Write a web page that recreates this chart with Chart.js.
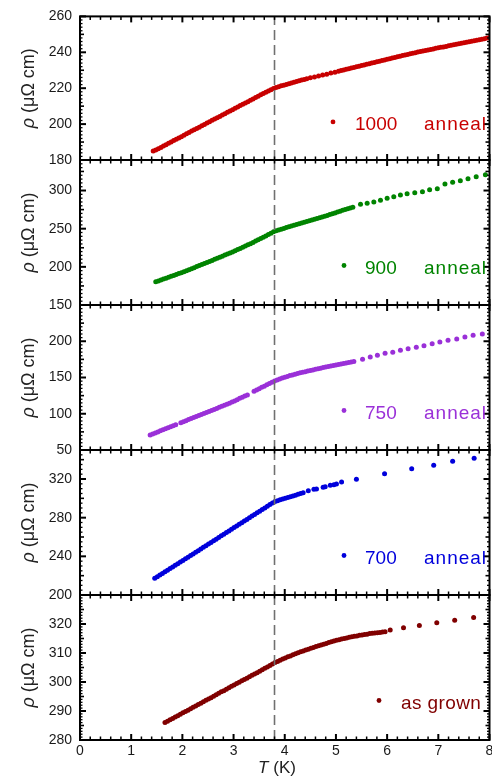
<!DOCTYPE html>
<html><head><meta charset="utf-8">
<script src="https://cdn.jsdelivr.net/npm/chart.js@4.4.0/dist/chart.umd.min.js"></script>
<style>
html,body{margin:0;padding:0;background:#fff;}
#wrap{position:relative;width:492px;height:777px;background:#fff;}
canvas{position:absolute;left:0;top:0;}
</style></head><body><div id="wrap">
<canvas id="c0" width="492" height="777"></canvas>
<canvas id="c1" width="492" height="777"></canvas>
<canvas id="c2" width="492" height="777"></canvas>
<canvas id="c3" width="492" height="777"></canvas>
<canvas id="c4" width="492" height="777"></canvas>
</div>
<script>
// ---- data ----
const seriesNames = ['1000', '900', '750', '700', 'as grown'];
const seriesSuffix = ['anneal', 'anneal', 'anneal', 'anneal', ''];
const xTickLabels = ['0','1','2','3','4','5','6','7','8'];
const yMin = [180, 150, 50, 200, 280];
const yMax = [260, 340, 250, 350, 330];
const yMajor = [20, 50, 50, 40, 10];
const transitionT = 3.8;

const rho1000 = [[1.43,185.0],[1.48,185.6],[1.53,186.3],[1.58,187.0],[1.63,187.8],[1.68,188.5],[1.73,189.3],[1.78,190.0],[1.83,190.8],[1.88,191.5],[1.93,192.3],[1.98,193.0],[2.03,193.8],[2.08,194.6],[2.13,195.3],[2.18,196.1],[2.23,196.8],[2.28,197.6],[2.33,198.3],[2.38,199.1],[2.43,199.8],[2.48,200.6],[2.53,201.3],[2.58,202.1],[2.63,202.8],[2.68,203.6],[2.73,204.3],[2.78,205.1],[2.83,205.8],[2.88,206.6],[2.93,207.3],[2.98,208.0],[3.03,208.8],[3.08,209.5],[3.13,210.3],[3.18,211.0],[3.23,211.8],[3.28,212.5],[3.33,213.3],[3.38,214.0],[3.43,214.8],[3.48,215.5],[3.53,216.3],[3.58,217.0],[3.63,217.8],[3.68,218.5],[3.73,219.2],[3.78,219.9],[3.83,220.4],[3.88,220.8],[3.93,221.3],[3.98,221.7],[4.03,222.1],[4.08,222.5],[4.13,222.9],[4.18,223.3],[4.23,223.7],[4.28,224.1],[4.33,224.5],[4.38,224.9],[4.43,225.2],[4.50,225.8],[4.58,226.3],[4.66,226.8],[4.74,227.3],[4.82,227.8],[4.90,228.4],[4.98,228.9],[5.05,229.5],[5.10,229.8],[5.15,230.1],[5.20,230.5],[5.25,230.8],[5.30,231.2],[5.35,231.5],[5.40,231.9],[5.45,232.2],[5.50,232.6],[5.55,232.9],[5.60,233.3],[5.65,233.6],[5.70,234.0],[5.75,234.3],[5.80,234.7],[5.85,235.0],[5.90,235.4],[5.95,235.7],[6.00,236.1],[6.05,236.4],[6.10,236.8],[6.15,237.1],[6.20,237.5],[6.25,237.8],[6.30,238.2],[6.35,238.5],[6.40,238.8],[6.45,239.2],[6.50,239.5],[6.55,239.8],[6.60,240.1],[6.65,240.4],[6.70,240.7],[6.75,241.0],[6.80,241.3],[6.85,241.6],[6.90,241.9],[6.95,242.2],[7.00,242.5],[7.05,242.8],[7.10,243.0],[7.15,243.3],[7.20,243.6],[7.25,243.9],[7.30,244.2],[7.35,244.5],[7.40,244.8],[7.45,245.0],[7.50,245.3],[7.55,245.6],[7.60,245.9],[7.65,246.2],[7.70,246.4],[7.75,246.7],[7.80,247.0],[7.85,247.3],[7.90,247.6],[7.95,247.9],[8.00,248.2]];

const rho900 = [[1.48,180.5],[1.53,181.6],[1.58,182.8],[1.63,184.0],[1.68,185.2],[1.73,186.4],[1.78,187.6],[1.83,188.8],[1.88,190.0],[1.93,191.2],[1.98,192.4],[2.03,193.7],[2.08,195.0],[2.13,196.3],[2.18,197.6],[2.23,198.9],[2.28,200.3],[2.33,201.6],[2.38,203.0],[2.43,204.3],[2.48,205.7],[2.53,207.0],[2.58,208.4],[2.63,209.8],[2.68,211.2],[2.73,212.6],[2.78,214.0],[2.83,215.4],[2.88,216.8],[2.93,218.2],[2.98,219.6],[3.03,221.1],[3.08,222.6],[3.13,224.1],[3.18,225.6],[3.23,227.2],[3.28,228.8],[3.33,230.4],[3.38,232.0],[3.43,233.7],[3.48,235.4],[3.53,237.1],[3.58,238.8],[3.63,240.5],[3.68,242.3],[3.73,244.1],[3.78,245.9],[3.83,247.3],[3.88,248.4],[3.93,249.4],[3.98,250.4],[4.03,251.4],[4.08,252.4],[4.13,253.4],[4.18,254.4],[4.23,255.4],[4.28,256.4],[4.33,257.4],[4.38,258.4],[4.43,259.4],[4.48,260.4],[4.53,261.4],[4.58,262.4],[4.63,263.4],[4.68,264.4],[4.73,265.4],[4.78,266.4],[4.83,267.4],[4.88,268.5],[4.93,269.6],[4.98,270.7],[5.03,271.8],[5.08,272.9],[5.13,274.0],[5.18,275.0],[5.23,276.0],[5.28,277.0],[5.33,278.0],[5.48,282.0],[5.61,283.3],[5.74,285.0],[5.87,287.2],[6.00,289.8],[6.13,291.9],[6.26,294.2],[6.39,295.9],[6.54,297.2],[6.69,298.5],[6.83,301.1],[6.98,302.4],[7.13,308.6],[7.28,310.8],[7.43,312.9],[7.58,315.5],[7.74,318.2],[7.92,320.8]];

const rho750 = [[1.37,70.7],[1.42,72.1],[1.47,73.5],[1.52,75.0],[1.57,76.4],[1.62,77.8],[1.67,79.2],[1.72,80.6],[1.77,82.0],[1.82,83.4],[1.87,84.8],[1.97,87.7],[2.02,89.1],[2.07,90.5],[2.12,91.9],[2.17,93.3],[2.22,94.7],[2.27,96.1],[2.32,97.5],[2.37,98.9],[2.42,100.3],[2.47,101.7],[2.52,103.1],[2.57,104.5],[2.62,106.0],[2.67,107.4],[2.72,108.8],[2.77,110.3],[2.82,111.7],[2.87,113.2],[2.92,114.6],[2.97,116.1],[3.02,117.6],[3.07,119.4],[3.12,121.3],[3.17,122.9],[3.22,124.4],[3.27,126.0],[3.40,131.0],[3.45,132.8],[3.50,134.6],[3.55,136.4],[3.60,138.1],[3.65,139.9],[3.70,141.7],[3.75,143.5],[3.80,145.2],[3.85,146.7],[3.90,148.0],[3.95,149.2],[4.00,150.4],[4.05,151.5],[4.10,152.6],[4.15,153.6],[4.20,154.6],[4.25,155.5],[4.30,156.4],[4.35,157.3],[4.40,158.1],[4.45,158.9],[4.50,159.7],[4.55,160.5],[4.60,161.3],[4.65,162.1],[4.70,162.9],[4.75,163.7],[4.80,164.5],[4.85,165.2],[4.90,165.9],[4.95,166.6],[5.00,167.3],[5.05,168.0],[5.10,168.7],[5.15,169.4],[5.20,170.1],[5.25,170.8],[5.30,171.5],[5.35,172.2],[5.52,175.1],[5.67,178.3],[5.81,180.6],[5.96,183.4],[6.11,184.8],[6.26,187.5],[6.41,189.8],[6.57,191.6],[6.72,193.9],[6.88,196.6],[7.03,199.0],[7.19,201.3],[7.36,203.1],[7.52,205.9],[7.68,208.2],[7.86,210.0]];

const rho700 = [[1.46,217.2],[1.51,218.9],[1.56,220.6],[1.61,222.3],[1.66,224.0],[1.71,225.6],[1.76,227.3],[1.81,229.0],[1.86,230.7],[1.91,232.4],[1.96,234.1],[2.01,235.8],[2.06,237.4],[2.11,239.1],[2.16,240.8],[2.21,242.5],[2.26,244.2],[2.31,245.9],[2.36,247.6],[2.41,249.3],[2.46,251.0],[2.51,252.7],[2.56,254.4],[2.61,256.1],[2.66,257.8],[2.71,259.5],[2.76,261.2],[2.81,262.9],[2.86,264.6],[2.91,266.3],[2.96,268.0],[3.01,269.7],[3.06,271.4],[3.11,273.1],[3.16,274.8],[3.21,276.5],[3.26,278.2],[3.31,279.9],[3.36,281.6],[3.41,283.3],[3.46,285.0],[3.51,286.7],[3.56,288.4],[3.61,290.1],[3.66,291.8],[3.71,293.5],[3.76,295.2],[3.81,296.6],[3.86,297.6],[3.91,298.5],[3.96,299.3],[4.01,300.1],[4.06,300.9],[4.11,301.7],[4.16,302.5],[4.21,303.3],[4.26,304.1],[4.31,304.9],[4.36,305.8],[4.46,307.9],[4.57,309.3],[4.62,309.7],[4.75,311.4],[4.79,312.0],[4.89,313.5],[4.96,314.1],[5.01,314.8],[5.11,316.9],[5.40,319.7],[5.95,325.5],[6.48,330.7],[6.91,334.1],[7.28,338.3],[7.70,341.4]];

const rhoGrown = [[1.66,286.0],[1.71,286.5],[1.76,287.0],[1.81,287.4],[1.86,287.9],[1.91,288.4],[1.96,288.9],[2.01,289.4],[2.06,289.8],[2.11,290.3],[2.16,290.8],[2.21,291.3],[2.26,291.7],[2.31,292.2],[2.36,292.7],[2.41,293.2],[2.46,293.7],[2.51,294.1],[2.56,294.6],[2.61,295.1],[2.66,295.6],[2.71,296.1],[2.76,296.6],[2.81,297.0],[2.86,297.5],[2.91,298.0],[2.96,298.5],[3.01,299.0],[3.06,299.5],[3.11,299.9],[3.16,300.4],[3.21,300.9],[3.26,301.3],[3.31,301.8],[3.36,302.3],[3.41,302.8],[3.46,303.2],[3.51,303.7],[3.56,304.2],[3.61,304.7],[3.66,305.2],[3.71,305.7],[3.76,306.2],[3.81,306.7],[3.86,307.1],[3.91,307.5],[3.96,307.9],[4.01,308.3],[4.06,308.7],[4.11,309.0],[4.16,309.4],[4.21,309.7],[4.26,310.1],[4.31,310.4],[4.36,310.7],[4.41,311.0],[4.46,311.3],[4.51,311.6],[4.56,311.9],[4.61,312.2],[4.66,312.5],[4.71,312.8],[4.76,313.0],[4.81,313.3],[4.86,313.6],[4.91,313.9],[4.96,314.1],[5.01,314.4],[5.06,314.6],[5.11,314.8],[5.16,315.0],[5.21,315.2],[5.26,315.4],[5.31,315.6],[5.36,315.8],[5.41,315.9],[5.46,316.1],[5.51,316.2],[5.56,316.4],[5.61,316.5],[5.66,316.7],[5.71,316.8],[5.76,316.9],[5.81,317.0],[5.86,317.1],[5.91,317.2],[5.96,317.3],[6.06,317.9],[6.32,318.7],[6.63,319.5],[6.97,320.4],[7.32,321.3],[7.69,322.2]];

const allSeries = [rho1000, rho900, rho750, rho700, rhoGrown];

// ---- styling / layout (not data) ----
const colors = ['#c80000', '#008400', '#9a30d8', '#0000dc', '#800000'];
const yMedium = [10, 25, 25, 20, 5];
const yMinor = [2, 5, 5, 5, 1];
const panelTop = [15, 160, 305, 450, 595];
const panelH = 145;
const xAxisH = [0, 0, 0, 0, 22];
const legendDotX = [333, 344, 344, 344, 379];
const legendNameX = [355, 365, 365, 365, 401];
const legendSuffixX = 424;
const FONT = '"Liberation Sans", Arial, Helvetica, sans-serif';
Chart.defaults.font.family = FONT;

function isMult(v, step) { const r = v / step; return Math.abs(r - Math.round(r)) < 1e-6; }

function deco(i) {
  return {
    id: 'deco' + i,
    afterDatasetsDraw(chart) {
      const ctx = chart.ctx, a = chart.chartArea, xs = chart.scales.x, ys = chart.scales.y;
      ctx.save();
      ctx.strokeStyle = '#000';
      const seg = (x1, y1, x2, y2, w) => { ctx.lineWidth = w; ctx.beginPath(); ctx.moveTo(x1, y1); ctx.lineTo(x2, y2); ctx.stroke(); };
      for (let k = 0; k <= 40; k++) {
        const v = k * 0.2;
        const px = xs.getPixelForValue(v);
        const major = k % 5 === 0;
        const L = major ? 6 : 3.5, w = major ? 2 : 1.5;
        seg(px, a.bottom, px, a.bottom - L, w);
        seg(px, a.top, px, a.top + L, w);
      }
      const n = Math.round((yMax[i] - yMin[i]) / yMinor[i]);
      for (let k = 0; k <= n; k++) {
        const v = yMin[i] + k * yMinor[i];
        const py = ys.getPixelForValue(v);
        let L = 2.5, w = 1.3;
        if (isMult(v, yMajor[i])) { L = 6; w = 2; } else if (isMult(v, yMedium[i])) { L = 4; w = 1.6; }
        seg(a.left, py, a.left + L, py, w);
        seg(a.right, py, a.right - L, py, w);
      }
      ctx.lineWidth = 2;
      ctx.strokeRect(a.left, a.top, a.right - a.left, a.bottom - a.top);
      // legend
      const top = a.top;
      ctx.fillStyle = colors[i];
      ctx.beginPath(); ctx.arc(legendDotX[i], top + 105.5, 2.4, 0, Math.PI * 2); ctx.fill();
      ctx.font = '19px ' + FONT;
      ctx.textBaseline = 'alphabetic';
      ctx.textAlign = 'left';
      if (i === 4) ctx.letterSpacing = '0.4px';
      ctx.fillText(seriesNames[i], legendNameX[i], top + 113.5);
      if (seriesSuffix[i]) {
        ctx.letterSpacing = '1px';
        ctx.fillText(seriesSuffix[i], legendSuffixX, top + 113.5);
      }
      ctx.letterSpacing = '0px';
      // y title
      ctx.fillStyle = '#222';
      ctx.save();
      ctx.translate(34, (a.top + a.bottom) / 2);
      ctx.rotate(-Math.PI / 2);
      const f1 = 'italic 18px ' + FONT, f2 = '18px ' + FONT;
      ctx.font = f1; const w1 = ctx.measureText('\u03C1').width;
      ctx.font = f2; const w2 = ctx.measureText(' (\u03BC\u03A9 cm)').width;
      const sx = -(w1 + w2) / 2;
      ctx.font = f1; ctx.fillText('\u03C1', sx, 0);
      ctx.font = f2; ctx.fillText(' (\u03BC\u03A9 cm)', sx + w1, 0);
      ctx.restore();
      if (i === 4) {
        const g1 = 'italic 17px ' + FONT, g2 = '17px ' + FONT;
        ctx.font = g1; const t1 = ctx.measureText('T').width;
        ctx.font = g2; const t2 = ctx.measureText(' (K)').width;
        const cx = 277 - (t1 + t2) / 2;
        ctx.font = g1; ctx.fillText('T', cx, 773);
        ctx.font = g2; ctx.fillText(' (K)', cx + t1, 773);
      }
      ctx.restore();
    }
  };
}

for (let i = 0; i < 5; i++) {
  const ctx = document.getElementById('c' + i).getContext('2d');
  new Chart(ctx, {
    type: 'scatter',
    data: {
      datasets: [
        {
          data: allSeries[i].map(p => ({ x: p[0], y: p[1] })),
          backgroundColor: colors[i],
          borderColor: colors[i],
          pointRadius: 2.5,
          pointBorderWidth: 0,
          pointHoverRadius: 0,
          order: 1
        },
        {
          type: 'line',
          data: [{ x: transitionT, y: yMin[i] }, { x: transitionT, y: yMax[i] }],
          borderColor: '#707070',
          borderWidth: 1.6,
          borderDash: [10, 5],
          pointRadius: 0,
          fill: false,
          showLine: true,
          order: 0
        }
      ]
    },
    options: {
      responsive: false,
      animation: false,
      events: [],
      layout: { padding: { left: 0, right: 2, top: panelTop[i], bottom: 777 - panelTop[i] - panelH - xAxisH[i] } },
      plugins: { legend: { display: false }, tooltip: { enabled: false } },
      scales: {
        x: {
          type: 'linear', min: 0, max: 8,
          grid: { display: false, drawTicks: false },
          border: { display: false },
          ticks: {
            display: i === 4, stepSize: 1, padding: 3, autoSkip: false, maxRotation: 0,
            font: { size: 14, family: FONT }, color: '#1a1a1a',
            callback: (v) => xTickLabels[Math.round(v)] !== undefined ? xTickLabels[Math.round(v)] : ''
          },
          afterFit: (s) => { s.height = xAxisH[i]; s.paddingLeft = 0; s.paddingRight = 0; }
        },
        y: {
          type: 'linear', min: yMin[i], max: yMax[i],
          grid: { display: false, drawTicks: false },
          border: { display: false },
          ticks: {
            stepSize: yMajor[i], includeBounds: false, padding: 8,
            font: { size: 14, family: FONT }, color: '#1a1a1a',
            callback: (v) => (i > 0 && v === yMax[i]) ? '' : String(v)
          },
          afterFit: (s) => { s.width = 80; }
        }
      }
    },
    plugins: [deco(i)]
  });
}
</script>
</body></html>
